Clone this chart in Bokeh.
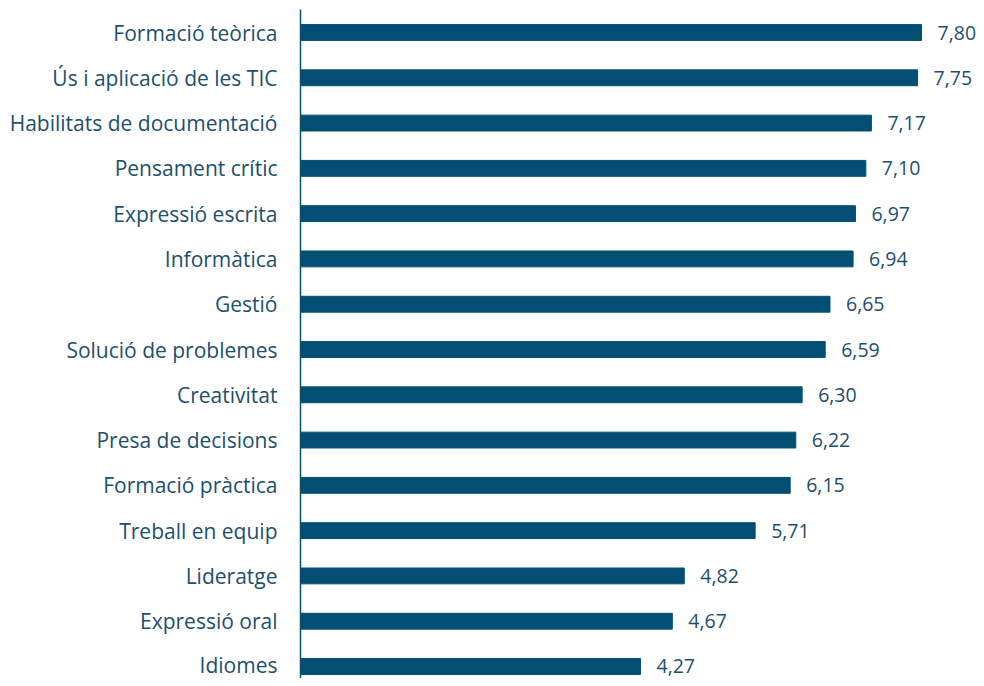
from bokeh.plotting import figure
from bokeh.models import ColumnDataSource, FixedTicker, Range1d
from bokeh.core.properties import value
from bokeh.embed import file_html
from bokeh.resources import INLINE

categories = [
    "Formació teòrica", "Ús i aplicació de les TIC", "Habilitats de documentació",
    "Pensament crític", "Expressió escrita", "Informàtica", "Gestió",
    "Solució de problemes", "Creativitat", "Presa de decisions",
    "Formació pràctica", "Treball en equip", "Lideratge", "Expressió oral", "Idiomes",
]
scores = [7.80, 7.75, 7.17, 7.10, 6.97, 6.94, 6.65, 6.59, 6.30, 6.22, 6.15, 5.71, 4.82, 4.67, 4.27]

BAR = "#034f73"
TXT = "#1d4f6f"
FONT = "Open Sans"

n = len(categories)
pos = [n - 1 - i for i in range(n)]
labels = [f"{v:.2f}".replace(".", ",") for v in scores]
src = ColumnDataSource(dict(y=pos, v=scores, lab=labels, cat=categories))

p = figure(width=976, height=678, output_backend="svg", toolbar_location=None,
           x_range=Range1d(0, 8.49), y_range=Range1d(-0.265, n - 1 + 0.508),
           min_border_left=300, min_border_right=0, min_border_top=9, min_border_bottom=0)
p.outline_line_color = None
p.xgrid.visible = False
p.ygrid.visible = False
p.xaxis.visible = False

p.hbar(y="y", left=0, right="v", height=0.35, color=BAR, source=src)
p.text(x="v", y="y", text="lab", source=src, x_offset=16, text_baseline="middle",
       text_align="left", text_font=value(FONT), text_font_size="19.5px", text_color=TXT)

ya = p.yaxis[0]
ya.ticker = FixedTicker(ticks=pos)
ya.major_label_overrides = {pos[i]: categories[i] for i in range(n)}
ya.major_tick_line_color = None
ya.minor_tick_line_color = None
ya.axis_line_color = BAR
ya.axis_line_width = 1.5
ya.major_label_standoff = 17
ya.major_label_text_font = FONT
ya.major_label_text_font_size = "21px"
ya.major_label_text_color = TXT

open("out.html", "w").write(file_html(p, INLINE))
